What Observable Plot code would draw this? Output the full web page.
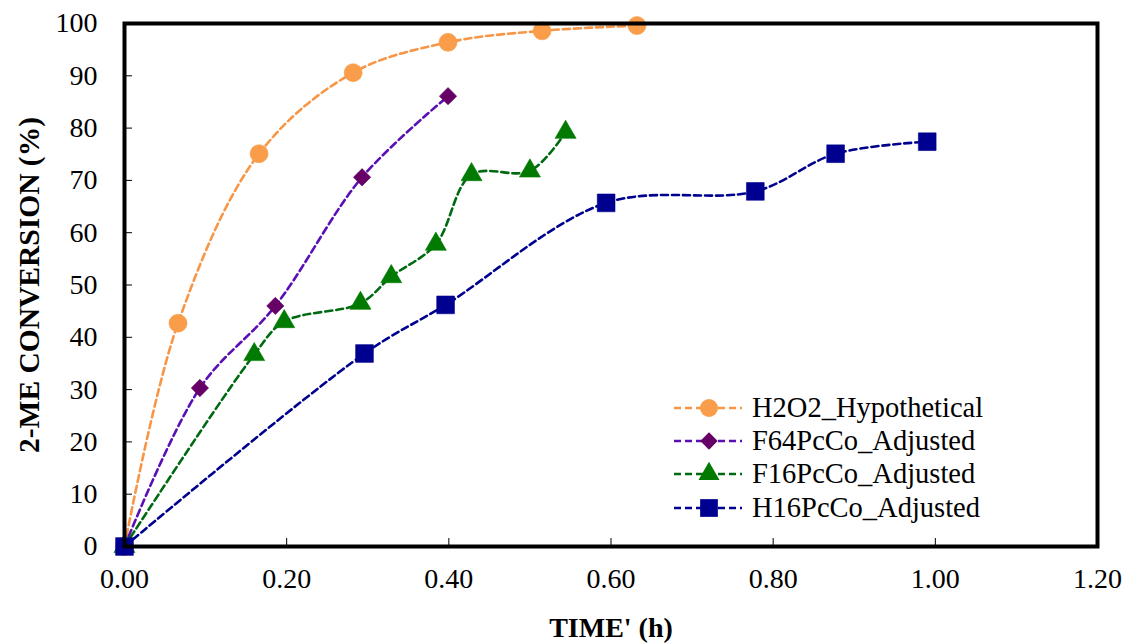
<!DOCTYPE html>
<html><head><meta charset="utf-8">
<script src="https://cdn.jsdelivr.net/npm/d3@7"></script>
<script src="https://cdn.jsdelivr.net/npm/@observablehq/plot@0.6"></script>
<style>
body{margin:0;background:#fff;}
#wrap{position:relative;width:1129px;height:644px;overflow:hidden;}
#legend{position:absolute;left:672px;top:391px;font-family:"Liberation Serif","Times New Roman",serif;font-size:28.5px;color:#000;}
#legend .row{display:flex;align-items:center;height:33.3px;}
#legend svg{margin-right:8px;}
g[aria-label="x-axis label"] text, g[aria-label="y-axis label"] text{font-weight:bold;}
g[aria-label="y-axis label"] text{font-size:29.5px;}
</style></head><body><div id="wrap"><div id="legend"></div></div>
<script>
// ---- data ----
const seriesNames = ["H2O2_Hypothetical", "F64PcCo_Adjusted", "F16PcCo_Adjusted", "H16PcCo_Adjusted"];
const h2o2Time = [0, 0.066, 0.166, 0.282, 0.399, 0.515, 0.632];
const h2o2Conv = [0, 42.7, 75.1, 90.6, 96.4, 98.6, 99.6];
const f64Time = [0, 0.093, 0.186, 0.293, 0.399];
const f64Conv = [0, 30.3, 46.0, 70.6, 86.1];
const f16Time = [0, 0.160, 0.197, 0.291, 0.329, 0.384, 0.428, 0.500, 0.544];
const f16Conv = [0, 36.7, 43.0, 46.5, 51.6, 57.8, 71.1, 71.8, 79.2];
const h16Time = [0, 0.296, 0.396, 0.594, 0.778, 0.877, 0.990];
const h16Conv = [0, 36.9, 46.2, 65.7, 67.9, 75.1, 77.4];
const xTicks = [0, 0.2, 0.4, 0.6, 0.8, 1.0, 1.2];
const yTicks = [0, 10, 20, 30, 40, 50, 60, 70, 80, 90, 100];

// ---- styles ----
const lineColors = ["#F79646", "#5A0FB4", "#006A12", "#00008F"];
const fillColors = ["#F99D4A", "#660066", "#007A00", "#000090"];
const symbols = ["circle", "diamond2", "triangle", "square"];
const radii = [9, 7.8, 7.8, 10];

const times = [h2o2Time, f64Time, f16Time, h16Time];
const convs = [h2o2Conv, f64Conv, f16Conv, h16Conv];
const rows = [];
seriesNames.forEach((s, i) => times[i].forEach((t, j) => rows.push({series: s, idx: i, t, y: convs[i][j]})));

const W = 1129, H = 644, mL = 124, mR = 32, mT = 23, mB = 98;
const innerH = H - mT - mB, innerW = W - mL - mR;
const font = "Liberation Serif, Times New Roman, serif";

const marks = [];
seriesNames.forEach((s, i) => {
  const d = rows.filter(r => r.idx === i);
  marks.push(Plot.line(d, {x: "t", y: "y", curve: "catmull-rom", stroke: lineColors[i], strokeWidth: 2.6, strokeDasharray: "7,4"}));
});
seriesNames.forEach((s, i) => {
  const d = rows.filter(r => r.idx === i);
  marks.push(Plot.dot(d, {x: "t", y: "y", symbol: () => symbols[i], r: radii[i], fill: fillColors[i], stroke: fillColors[i], strokeOpacity: 0.6, strokeWidth: 1}));
});

const chart = Plot.plot({
  width: W, height: H,
  marginLeft: mL, marginRight: mR, marginTop: mT, marginBottom: mB,
  style: {fontFamily: font, background: "#fff", color: "#000", overflow: "visible"},
  x: {domain: [0, 1.2]},
  y: {domain: [0, 100]},
  symbol: {type: "identity"},
  marks: [
    Plot.ruleX(xTicks, {x: d => d, insetTop: innerH - 8, stroke: "#000", strokeWidth: 1}),
    Plot.ruleY(yTicks, {y: d => d, insetRight: innerW - 8, stroke: "#000", strokeWidth: 1}),
    ...marks,
    Plot.axisX(xTicks, {tickSize: 0, tickPadding: 22, fontSize: 28, tickFormat: d => d.toFixed(2), label: null}),
    Plot.axisX({ticks: [], tickSize: 0, label: "TIME' (h)", labelArrow: "none", labelAnchor: "center", labelOffset: 90, dx: -10, fontSize: 28}),
    Plot.axisY(yTicks, {tickSize: 0, tickPadding: 27, fontSize: 28, tickFormat: d => String(d), label: "2-ME CONVERSION (%)", labelArrow: "none", labelAnchor: "center", labelOffset: 106}),
    Plot.frame({stroke: "#000", strokeWidth: 4})
  ]
});
document.getElementById("wrap").prepend(chart);
chart.style.position = "absolute"; chart.style.left = "0"; chart.style.top = "0";

// ---- legend ----
const legend = d3.select("#legend");
const d3sym = {circle: d3.symbolCircle, diamond2: d3.symbolDiamond2, triangle: d3.symbolTriangle, square: d3.symbolSquare};
seriesNames.forEach((s, i) => {
  const row = legend.append("div").attr("class", "row");
  const svg = row.append("svg").attr("width", 72).attr("height", 30);
  svg.append("line").attr("x1", 2).attr("x2", 70).attr("y1", 15).attr("y2", 15)
    .attr("stroke", lineColors[i]).attr("stroke-width", 2.6).attr("stroke-dasharray", "7,4");
  svg.append("path").attr("transform", "translate(37,15)")
    .attr("d", d3.symbol(d3sym[symbols[i]], Math.PI * radii[i] * radii[i])())
    .attr("fill", fillColors[i]);
  row.append("span").text(s);
});
</script>
</body></html>
